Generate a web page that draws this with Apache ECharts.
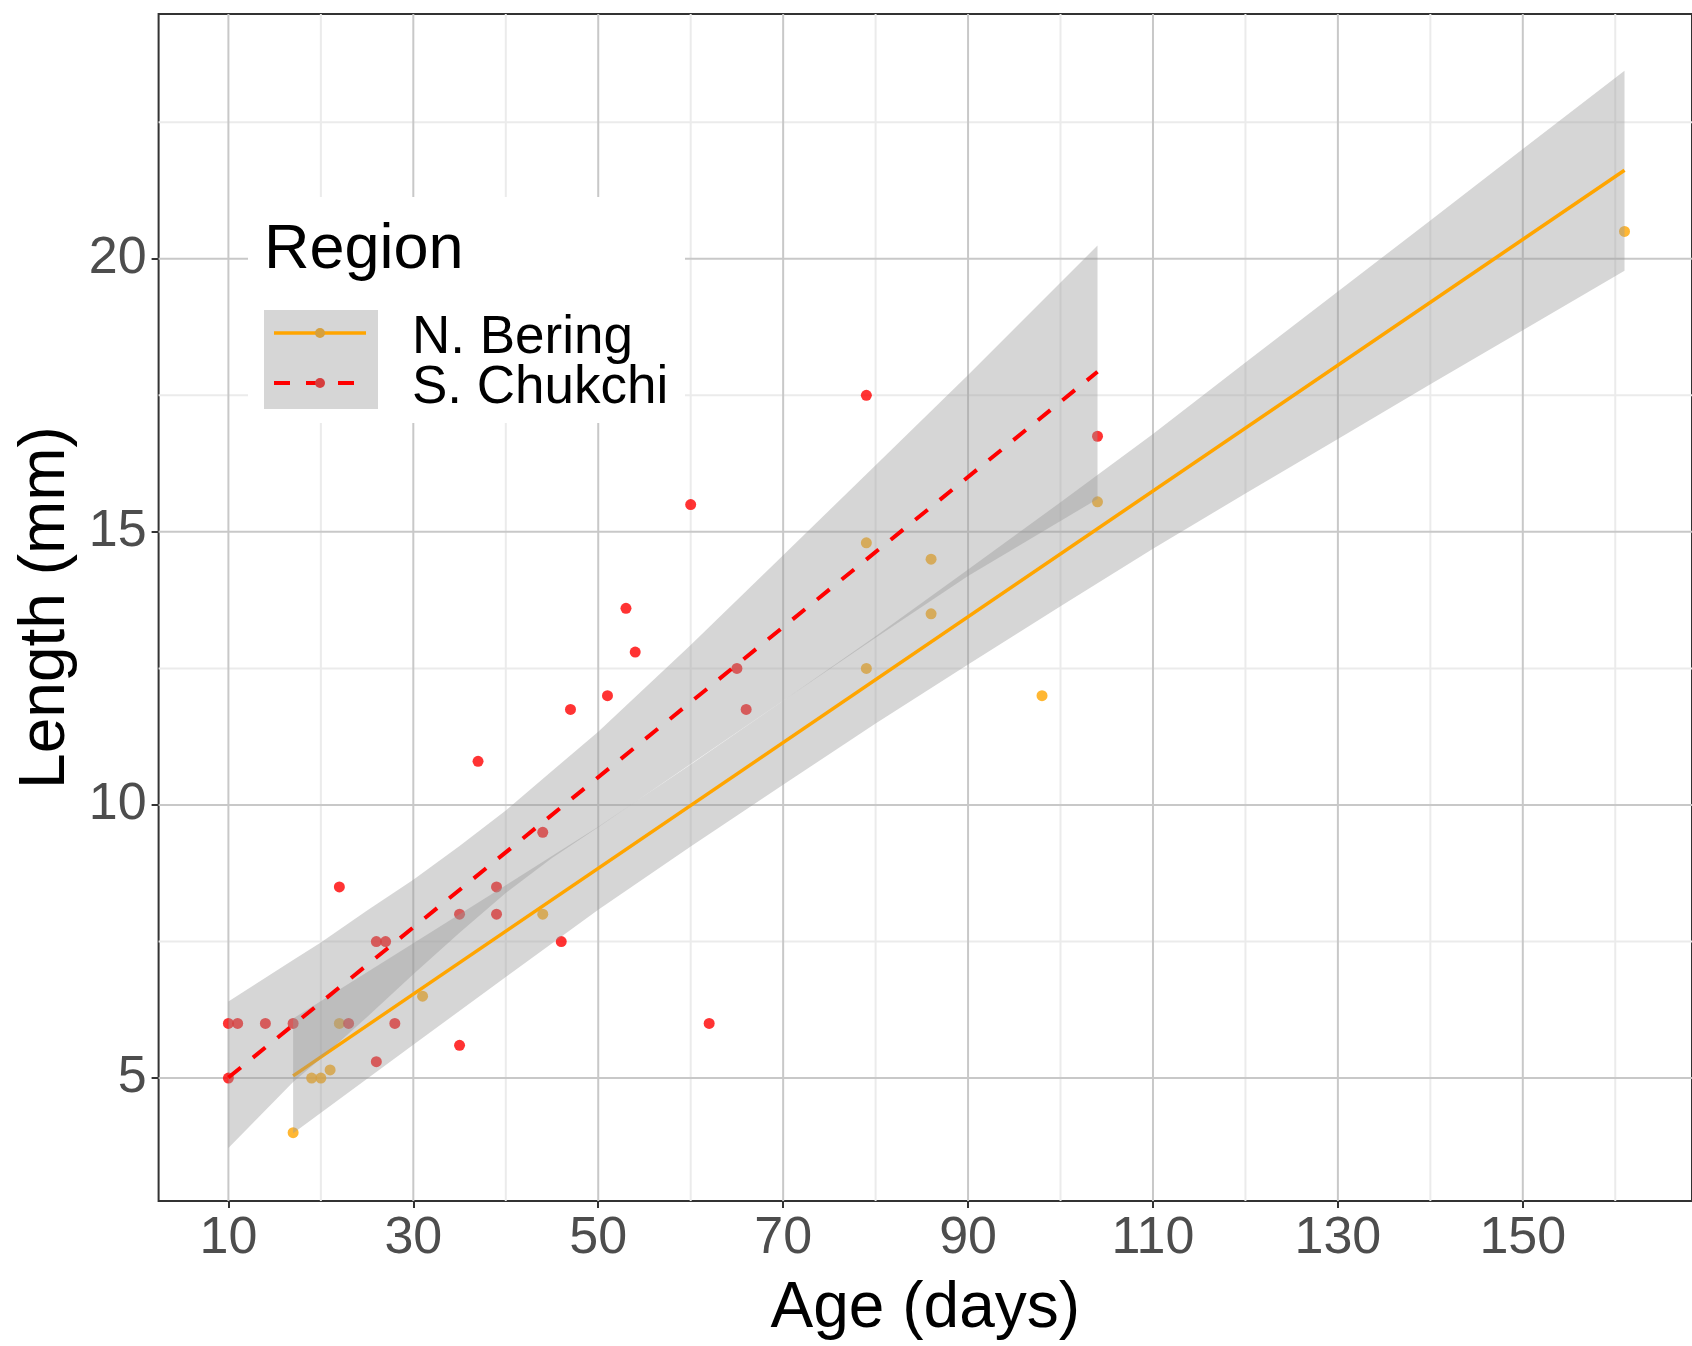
<!DOCTYPE html>
<html>
<head>
<meta charset="utf-8">
<script src="https://cdn.jsdelivr.net/npm/echarts@6/dist/echarts.min.js"></script>
<style>
  html, body { margin: 0; padding: 0; background: #fff; }
  #chart { width: 1692px; height: 1346px; }
</style>
</head>
<body>
<div id="chart"></div>
<script>
// point data
const beringAge = [17, 19, 20, 21, 22, 31, 44, 79, 79, 86, 86, 98, 104, 161]
const beringLength = [4, 5, 5, 5.15, 6, 6.5, 8, 14.8, 12.5, 14.5, 13.5, 12, 15.55, 20.5]
const chukchiAge = [10, 11, 10, 14, 17, 22, 23, 26, 27, 26, 28, 35, 35, 37, 39, 39, 44, 46, 47, 51, 53, 54, 60, 62, 65, 66, 79, 104]
const chukchiLength = [6, 6, 5, 6, 6, 8.5, 6, 7.5, 7.5, 5.3, 6, 5.6, 8, 10.8, 8.5, 8, 9.5, 7.5, 11.75, 12, 13.6, 12.8, 15.5, 6, 12.5, 11.75, 17.5, 16.75]

// fitted lines (lm)
const beringFitAge = [17, 161]
const beringFitLength = [5.04, 21.62]
const chukchiFitAge = [10, 104]
const chukchiFitLength = [5.01, 17.93]

// confidence bands
const beringBandAge = [17, 30, 40, 50, 60, 70, 80, 90, 100, 110, 120, 130, 140, 150, 161]
const beringBandLow = [3.99, 5.61, 6.85, 8.08, 9.24, 10.37, 11.49, 12.57, 13.64, 14.69, 15.70, 16.70, 17.70, 18.69, 19.78]
const beringBandHigh = [6.09, 7.47, 8.53, 9.60, 10.74, 11.91, 13.09, 14.31, 15.54, 16.79, 18.10, 19.40, 20.70, 22.01, 23.44]
const chukchiBandAge = [10, 17, 20, 25, 30, 35, 40, 45, 50, 60, 70, 80, 90, 104]
const chukchiBandLow = [3.72, 4.93, 5.36, 6.12, 6.90, 7.66, 8.39, 9.03, 9.59, 10.75, 11.91, 13.06, 14.19, 15.60]
const chukchiBandHigh = [6.40, 7.16, 7.48, 8.07, 8.63, 9.25, 9.90, 10.62, 11.34, 12.93, 14.57, 16.22, 17.87, 20.24]

// axes
const xTicks = [10, 30, 50, 70, 90, 110, 130, 150]
const xMinor = [20, 40, 60, 80, 100, 120, 140, 160]
const yTicks = [5, 10, 15, 20]
const yMinor = [7.5, 12.5, 17.5, 22.5]
const regions = ['N. Bering', 'S. Chukchi']

const FONT = 'Liberation Sans'
const chart = echarts.init(document.getElementById('chart'))

function gridSeries(values, dir, color) {
    return {
        type: 'custom',
        silent: true,
        z: 1,
        data: values.map(v => dir === 'x' ? [v, 10] : [50, v]),
        renderItem: (params, api) => {
            const cs = params.coordSys
            const p = api.coord([api.value(0), api.value(1)])
            const shape = dir === 'x'
                ? { x1: p[0], y1: cs.y, x2: p[0], y2: cs.y + cs.height }
                : { x1: cs.x, y1: p[1], x2: cs.x + cs.width, y2: p[1] }
            return { type: 'line', shape, style: { stroke: color, lineWidth: 2 } }
        }
    }
}

// confidence ribbon drawn as one polygon
function bandSeries(ages, low, high, z) {
    return {
        type: 'custom',
        silent: true,
        z,
        data: ages.map((a, i) => [a, low[i], high[i]]),
        renderItem: (params, api) => {
            if (params.dataIndex !== 0) return null
            const pts = []
            ages.forEach((a, i) => pts.push(api.coord([a, high[i]])))
            for (let i = ages.length - 1; i >= 0; i--) pts.push(api.coord([ages[i], low[i]]))
            return { type: 'polygon', shape: { points: pts }, style: { fill: 'rgba(153,153,153,0.4)' } }
        }
    }
}

const option = {
    animation: false,
    backgroundColor: '#fff',
    grid: {
        left: 158.6, top: 14, right: -3, bottom: 144,
        show: true, borderColor: '#333', borderWidth: 2, backgroundColor: '#fff'
    },
    xAxis: {
        type: 'value', min: 2.45, max: 168.3,
        name: 'Age (days)', nameLocation: 'middle', nameGap: 76,
        nameTextStyle: { fontFamily: FONT, fontSize: 64, color: '#000' },
        axisLine: { show: false },
        splitLine: { show: false },
        axisTick: { show: true, customValues: xTicks, length: 7, lineStyle: { color: '#333', width: 2 } },
        axisLabel: { customValues: xTicks, margin: 12, fontFamily: FONT, fontSize: 52, color: '#4d4d4d' }
    },
    yAxis: {
        type: 'value', min: 2.75, max: 24.48,
        name: 'Length (mm)', nameLocation: 'middle', nameGap: 78,
        nameTextStyle: { fontFamily: FONT, fontSize: 64, color: '#000' },
        axisLine: { show: false },
        splitLine: { show: false },
        axisTick: { show: true, customValues: yTicks, length: 7, lineStyle: { color: '#333', width: 2 } },
        axisLabel: { customValues: yTicks, margin: 12, fontFamily: FONT, fontSize: 52, color: '#4d4d4d' }
    },
    series: [
        gridSeries(xMinor, 'x', '#ebebeb'),
        gridSeries(yMinor, 'y', '#ebebeb'),
        gridSeries(xTicks, 'x', '#c8c8c8'),
        gridSeries(yTicks, 'y', '#c8c8c8'),
        {
            name: regions[0], type: 'scatter', z: 2, symbolSize: 11,
            itemStyle: { color: '#ffa500' },
            data: beringAge.map((a, i) => [a, beringLength[i]])
        },
        {
            name: regions[1], type: 'scatter', z: 2, symbolSize: 11,
            itemStyle: { color: '#ff0000' },
            data: chukchiAge.map((a, i) => [a, chukchiLength[i]])
        },
        bandSeries(beringBandAge, beringBandLow, beringBandHigh, 3),
        {
            type: 'line', z: 4, symbol: 'none', silent: true,
            lineStyle: { color: '#ffa500', width: 3.5 },
            data: beringFitAge.map((a, i) => [a, beringFitLength[i]])
        },
        bandSeries(chukchiBandAge, chukchiBandLow, chukchiBandHigh, 5),
        {
            type: 'line', z: 6, symbol: 'none', silent: true,
            lineStyle: { color: '#ff0000', width: 4, type: [16, 15.6] },
            data: chukchiFitAge.map((a, i) => [a, chukchiFitLength[i]])
        }
    ],
    graphic: [
        { type: 'rect', z: 100, shape: { x: 248, y: 197, width: 437, height: 226 }, style: { fill: '#fff' } },
        { type: 'text', z: 101, style: { text: 'Region', x: 264, y: 251, verticalAlign: 'middle', font: '63px "Liberation Sans"', fill: '#000' } },
        { type: 'rect', z: 101, shape: { x: 264, y: 310, width: 114, height: 99 }, style: { fill: '#d6d6d6' } },
        { type: 'line', z: 102, shape: { x1: 274, y1: 333, x2: 366, y2: 333 }, style: { stroke: '#ffa500', lineWidth: 3.5 } },
        { type: 'circle', z: 102, shape: { cx: 320, cy: 333, r: 5 }, style: { fill: '#d6a03d' } },
        { type: 'line', z: 102, shape: { x1: 274, y1: 383, x2: 366, y2: 383 }, style: { stroke: '#ff0000', lineWidth: 4, lineDash: [16, 16] } },
        { type: 'circle', z: 102, shape: { cx: 320, cy: 383, r: 5 }, style: { fill: '#d63d3d' } },
        { type: 'text', z: 101, style: { text: regions[0], x: 412, y: 338, verticalAlign: 'middle', font: '53px "Liberation Sans"', fill: '#000' } },
        { type: 'text', z: 101, style: { text: regions[1], x: 412, y: 388, verticalAlign: 'middle', font: '53px "Liberation Sans"', fill: '#000' } }
    ]
}

chart.setOption(option)
</script>
</body>
</html>
